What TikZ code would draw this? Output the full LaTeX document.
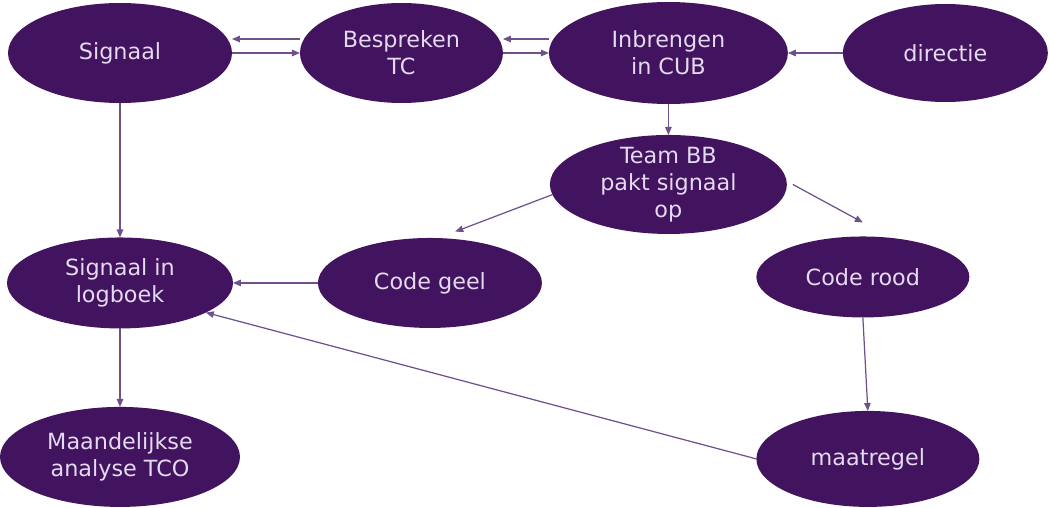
\documentclass[tikz,border=0pt]{standalone}
\usepackage{tikz}
\usetikzlibrary{shapes.geometric, arrows.meta, positioning}
\usepackage{fontspec}
\setmainfont{DejaVu Sans}
\definecolor{signaalPurple}{RGB}{66,19,94}
\definecolor{signaalText}{RGB}{228,218,238}
\definecolor{signaalLine}{RGB}{110,80,140}

\begin{document}
\begin{tikzpicture}[
    x=0.02cm, y=-0.02cm,
    stage/.style={ellipse, fill=signaalPurple, text=signaalText, inner sep=0pt, outer sep=0pt, align=center, font=\fontsize{12.7}{15.4}\selectfont},
    arrow/.style={-{Triangle[length=1.6mm, width=1.3mm]}, draw=signaalLine, line width=0.7pt}
]
\useasboundingbox (0,0) rectangle (1050,507);

% Top row
\node[stage, minimum width=4.48cm, minimum height=2cm] (signaal) at (120,53) {Signaal};
\node[stage, minimum width=4.06cm, minimum height=2cm, right=1.36cm of signaal] (bespreken) {Bespreken\\TC};
\node[stage, minimum width=4.78cm, minimum height=2.04cm, right=0.92cm of bespreken] (inbrengen) {Inbrengen\\in CUB};
\node[stage, minimum width=4.1cm, minimum height=1.96cm, right=1.1cm of inbrengen] (directie) {directie};
\node[stage, minimum width=4.74cm, minimum height=1.98cm, inner ysep=-0.06cm, below=0.62cm of inbrengen] (teambb) {Team BB\\pakt signaal\\op};

% Middle and bottom rows
\node[stage, minimum width=4.52cm, minimum height=1.82cm, below=2.69cm of signaal] (logboek) {Signaal in\\logboek};
\node[stage, minimum width=4.8cm, minimum height=2cm, below=1.57cm of logboek] (maandelijkse) {Maandelijkse\\analyse TCO};
\node[stage, minimum width=4.48cm, minimum height=1.8cm, right=1.7cm of logboek] (codegeel) {Code geel};
\node[stage, minimum width=4.26cm, minimum height=1.62cm, right=4.29cm of codegeel, yshift=0.12cm] (coderood) {Code rood};
\node[stage, minimum width=4.46cm, minimum height=1.92cm, below=1.87cm of coderood, xshift=0.1cm] (maatregel) {maatregel};

\draw[arrow] ([yshift=0.28cm]bespreken.west) -- ([yshift=0.28cm]bespreken.west -| signaal.east);
\draw[arrow] (signaal.east) -- (signaal.east -| bespreken.west);
\draw[arrow] ([yshift=0.28cm]inbrengen.west) -- ([yshift=0.28cm]inbrengen.west -| bespreken.east);
\draw[arrow] (bespreken.east) -- (bespreken.east -| inbrengen.west);
\draw[arrow] (directie.west) -- (directie.west -| inbrengen.east);
\draw[arrow] (inbrengen) -- (teambb);
\draw[arrow] (signaal) -- (logboek);
\draw[arrow] (logboek) -- (maandelijkse);
\draw[arrow] (codegeel) -- (logboek);
\draw[arrow] (teambb.185) -- ([yshift=0.15cm]codegeel.60);
\draw[arrow] ([xshift=0.12cm]teambb.east) -- ([yshift=0.28cm]coderood.north);
\draw[arrow] (coderood.south) -- (maatregel.north);
\draw[arrow] (maatregel.west) -- (logboek.-19);

\end{tikzpicture}
\end{document}
